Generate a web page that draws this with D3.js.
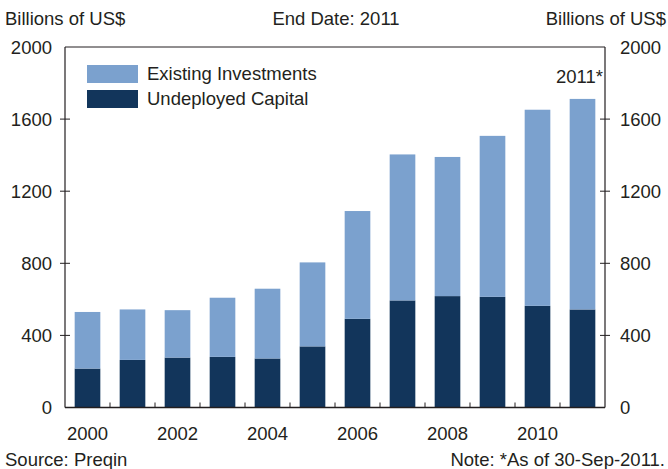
<!DOCTYPE html>
<html><head><meta charset="utf-8">
<script src="https://cdn.jsdelivr.net/npm/d3@7"></script>
<style>body{margin:0;background:#fff}svg{display:block}text{font-family:"Liberation Sans",Arial,sans-serif;fill:#231f20}</style>
</head><body>
<script>
const years = [2000,2001,2002,2003,2004,2005,2006,2007,2008,2009,2010,2011];
const undeployed = [216,264,277,281,272,339,492,594,618,614,564,544];
const totals = [530,544,540,609,659,805,1090,1404,1390,1507,1652,1712];
const existing = totals.map((t,i)=>t-undeployed[i]);
const yTicks = [0,400,800,1200,1600,2000];
const xLabels = [2000,2002,2004,2006,2008,2010];
const seriesNames = ["Existing Investments","Undeployed Capital"];
const colors = {existing:"#7ba1ce", undeployed:"#12355b"};

const W=668,H=469;
const m={l:65,r:63,t:47,b:61.5};
const svg=d3.select("body").append("svg").attr("width",W).attr("height",H);
const x=d3.scaleBand().domain(years).range([m.l,W-m.r]).paddingInner(0.43).paddingOuter(0.215);
const xb=d3.scaleBand().domain(years).range([m.l,W-m.r]);
const y=d3.scaleLinear().domain([0,2000]).range([H-m.b,m.t]);
const fs=18.5;

const data=years.map((yr,i)=>({yr,undeployed:undeployed[i],existing:existing[i]}));
const stack=d3.stack().keys(["undeployed","existing"])(data);
svg.append("g").selectAll("g").data(stack).join("g")
  .attr("fill",d=>colors[d.key])
  .selectAll("rect").data(d=>d).join("rect")
  .attr("x",d=>x(d.data.yr)).attr("width",x.bandwidth())
  .attr("y",d=>y(d[1])).attr("height",d=>y(d[0])-y(d[1]));

// frame
const g=svg.append("g").attr("stroke","#231f20").attr("fill","none");
g.append("line").attr("x1",m.l).attr("x2",W-m.r).attr("y1",y(2000)).attr("y2",y(2000)).attr("stroke-width",1);
g.append("line").attr("x1",m.l).attr("x2",m.l).attr("y1",y(2000)).attr("y2",y(0)).attr("stroke-width",1.2);
g.append("line").attr("x1",W-m.r).attr("x2",W-m.r).attr("y1",y(2000)).attr("y2",y(0)).attr("stroke-width",1.2);
g.append("line").attr("x1",m.l).attr("x2",W-m.r).attr("y1",y(0)).attr("y2",y(0)).attr("stroke-width",1.6);
// y ticks
yTicks.slice(1,-1).forEach(v=>{
  g.append("line").attr("x1",m.l-5).attr("x2",m.l+5).attr("y1",y(v)).attr("y2",y(v));
  g.append("line").attr("x1",W-m.r-5).attr("x2",W-m.r+5).attr("y1",y(v)).attr("y2",y(v));
});
// x ticks at band boundaries
years.slice(1).forEach(yr=>{
  g.append("line").attr("x1",xb(yr)).attr("x2",xb(yr)).attr("y1",y(0)).attr("y2",y(0)-5);
});

const t=svg.append("g").attr("font-size",fs);
yTicks.forEach(v=>{
  t.append("text").attr("x",52).attr("y",y(v)+6.5).attr("text-anchor","end").text(v);
  t.append("text").attr("x",620).attr("y",y(v)+6.5).attr("text-anchor","start").text(v);
});
xLabels.forEach(v=>{
  t.append("text").attr("x",x(v)+x.bandwidth()/2).attr("y",440).attr("text-anchor","middle").text(v);
});
t.append("text").attr("x",5).attr("y",25).text("Billions of US$");
t.append("text").attr("x",336).attr("y",25).attr("text-anchor","middle").text("End Date: 2011");
t.append("text").attr("x",666).attr("y",25).attr("text-anchor","end").text("Billions of US$");
t.append("text").attr("x",5).attr("y",466).text("Source: Preqin");
t.append("text").attr("x",665).attr("y",466).attr("text-anchor","end").text("Note: *As of 30-Sep-2011.");
t.append("text").attr("x",603).attr("y",83).attr("text-anchor","end").text("2011*");

// legend
const lg=svg.append("g");
[["existing",65],["undeployed",90]].forEach(([k,yy],i)=>{
  lg.append("rect").attr("x",87).attr("y",yy).attr("width",51).attr("height",18).attr("fill",colors[k]);
  lg.append("text").attr("x",147).attr("y",yy+15).attr("font-size",fs).text(seriesNames[i]);
});
</script>
</body></html>
